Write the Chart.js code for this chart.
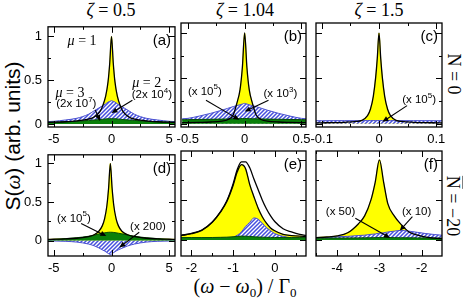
<!DOCTYPE html>
<html>
<head>
<meta charset="utf-8">
<script src="https://cdn.jsdelivr.net/npm/chart.js@4.4.1/dist/chart.umd.min.js"></script>
<style>
  html, body { margin: 0; padding: 0; background: #fff; }
  #wrap { position: relative; width: 463px; height: 299px; overflow: hidden; font-family: "Liberation Sans", Arial, sans-serif; }
  canvas { position: absolute; }
  .t { position: absolute; white-space: nowrap; color: #000; transform-origin: center center; }
  .serif { font-family: "Liberation Serif", "Times New Roman", serif; }
  .ov { text-decoration: overline; }
  sub { font-size: 13px; vertical-align: -4px; line-height: 0; }
</style>
</head>
<body>
<div id="wrap">
  <div class="t serif" style="left:111px;top:10px;font-size:18px;transform:translate(-50%,-50%)"><i>ζ</i> = 0.5</div>
  <div class="t serif" style="left:245px;top:10px;font-size:18px;transform:translate(-50%,-50%)"><i>ζ</i> = 1.04</div>
  <div class="t serif" style="left:379px;top:10px;font-size:18px;transform:translate(-50%,-50%)"><i>ζ</i> = 1.5</div>
  <div class="t" style="left:13px;top:136px;font-size:21px;transform:translate(-50%,-50%) rotate(-90deg)">S(<i class="serif">ω</i>) (arb. units)</div>
  <div class="t serif" style="left:453px;top:74px;font-size:18px;transform:translate(-50%,-50%) rotate(90deg)"><span class="ov">N</span> = 0</div>
  <div class="t serif" style="left:452px;top:206px;font-size:18px;transform:translate(-50%,-50%) rotate(90deg)"><span class="ov">N</span> = −20</div>
  <div class="t serif" style="left:245px;top:286px;font-size:20px;transform:translate(-50%,-50%)">(<i>ω</i> − <i>ω</i><sub>0</sub>) / Γ<sub>0</sub></div>
</div>
<script>
// ---- data ----
// (a) zeta = 0.5, N = 0
const xA = [-5.5, -5, -4, -3, -2, -1.5, -1, -0.75, -0.5, -0.3, -0.15, 0, 0.15, 0.3, 0.5, 0.75, 1, 1.5, 2, 3, 4, 5, 5.5];
const mu1A = [0.018, 0.02, 0.025, 0.035, 0.055, 0.08, 0.14, 0.21, 0.32, 0.48, 0.7, 1, 0.7, 0.48, 0.32, 0.21, 0.14, 0.08, 0.055, 0.035, 0.025, 0.02, 0.018];
const mu2A = [0.027, 0.03, 0.045, 0.065, 0.11, 0.15, 0.19, 0.21, 0.23, 0.25, 0.258, 0.265, 0.258, 0.25, 0.23, 0.21, 0.19, 0.15, 0.11, 0.065, 0.045, 0.03, 0.027];
const mu3A = [0.02, 0.02, 0.025, 0.03, 0.04, 0.045, 0.05, 0.054, 0.057, 0.059, 0.06, 0.06, 0.06, 0.059, 0.057, 0.054, 0.05, 0.045, 0.04, 0.03, 0.025, 0.02, 0.02];

// (b) zeta = 1.04, N = 0
const xB = [-0.55, -0.5, -0.4, -0.3, -0.2, -0.15, -0.1, -0.07, -0.04, -0.02, 0, 0.02, 0.04, 0.07, 0.1, 0.15, 0.2, 0.3, 0.4, 0.5, 0.55];
const mu1B = [0.012, 0.013, 0.016, 0.02, 0.03, 0.045, 0.1, 0.22, 0.38, 0.62, 1, 0.62, 0.38, 0.22, 0.1, 0.045, 0.03, 0.02, 0.016, 0.013, 0.012];
const mu2B = [0.055, 0.06, 0.085, 0.115, 0.15, 0.17, 0.19, 0.2, 0.21, 0.218, 0.225, 0.218, 0.21, 0.2, 0.19, 0.17, 0.15, 0.115, 0.085, 0.06, 0.055];
const mu3B = [0.045, 0.046, 0.048, 0.05, 0.052, 0.053, 0.055, 0.056, 0.057, 0.058, 0.058, 0.058, 0.057, 0.056, 0.055, 0.053, 0.052, 0.05, 0.048, 0.046, 0.045];

// (c) zeta = 1.5, N = 0
const xC = [-0.11, -0.1, -0.08, -0.06, -0.04, -0.03, -0.02, -0.015, -0.01, -0.006, -0.003, 0, 0.003, 0.006, 0.01, 0.015, 0.02, 0.03, 0.04, 0.06, 0.08, 0.1, 0.11];
const mu1C = [0.01, 0.011, 0.013, 0.017, 0.026, 0.038, 0.09, 0.16, 0.3, 0.5, 0.72, 1, 0.72, 0.5, 0.3, 0.16, 0.09, 0.038, 0.026, 0.017, 0.013, 0.011, 0.01];
const mu2C = [0.034, 0.034, 0.035, 0.035, 0.035, 0.035, 0.036, 0.036, 0.036, 0.036, 0.036, 0.036, 0.036, 0.036, 0.036, 0.036, 0.036, 0.035, 0.035, 0.035, 0.035, 0.034, 0.034];

// (d) zeta = 0.5, N = -20
const xD = [-5.5, -5, -4, -3, -2, -1.5, -1.1, -0.8, -0.6, -0.4, -0.25, -0.1, 0.05, 0.2, 0.4, 0.6, 0.9, 1.4, 2, 3, 4, 5, 5.5];
const mu1D = [0.015, 0.017, 0.022, 0.03, 0.05, 0.075, 0.12, 0.19, 0.28, 0.45, 0.68, 1, 0.68, 0.45, 0.28, 0.19, 0.12, 0.075, 0.05, 0.03, 0.022, 0.017, 0.015];
const mu2D = [-0.005, -0.006, -0.01, -0.02, -0.045, -0.068, -0.095, -0.12, -0.135, -0.155, -0.17, -0.182, -0.17, -0.155, -0.135, -0.12, -0.1, -0.07, -0.045, -0.02, -0.01, -0.006, -0.005];
const mu3D = [0.012, 0.015, 0.025, 0.037, 0.055, 0.07, 0.085, 0.095, 0.1, 0.105, 0.107, 0.108, 0.107, 0.105, 0.1, 0.095, 0.087, 0.072, 0.055, 0.037, 0.025, 0.015, 0.012];

// (e) zeta = 1.04, N = -20
const xE = [-2.25, -2, -1.75, -1.5, -1.3, -1.15, -1, -0.9, -0.8, -0.7, -0.6, -0.5, -0.4, -0.3, -0.2, -0.1, 0, 0.2, 0.4, 0.6, 0.75];
const totalE = [0.058, 0.082, 0.125, 0.225, 0.355, 0.49, 0.7, 0.88, 0.975, 0.975, 0.9, 0.76, 0.63, 0.5, 0.39, 0.3, 0.23, 0.14, 0.1, 0.07, 0.058];
const mu1E = [0.055, 0.078, 0.12, 0.22, 0.35, 0.48, 0.68, 0.85, 0.94, 0.89, 0.69, 0.54, 0.4, 0.29, 0.21, 0.15, 0.115, 0.07, 0.055, 0.047, 0.045];
const mu2E = [0.025, 0.025, 0.025, 0.025, 0.025, 0.025, 0.035, 0.06, 0.1, 0.17, 0.22, 0.275, 0.26, 0.21, 0.155, 0.115, 0.08, 0.045, 0.028, 0.025, 0.025];
const mu3E = [0.03, 0.03, 0.03, 0.031, 0.033, 0.035, 0.04, 0.045, 0.048, 0.047, 0.044, 0.04, 0.037, 0.035, 0.033, 0.032, 0.031, 0.03, 0.03, 0.03, 0.03];

// (f) zeta = 1.5, N = -20
const xF = [-4.5, -4.25, -4, -3.75, -3.5, -3.35, -3.2, -3.1, -3, -2.9, -2.8, -2.65, -2.5, -2.3, -2.1, -1.9, -1.7, -1.5];
const mu1F = [0.03, 0.037, 0.05, 0.09, 0.2, 0.3, 0.5, 0.72, 1, 0.72, 0.45, 0.3, 0.2, 0.1, 0.06, 0.035, 0.022, 0.016];
const mu2F = [0.025, 0.03, 0.04, 0.045, 0.055, 0.06, 0.07, 0.075, 0.085, 0.09, 0.1, 0.11, 0.12, 0.11, 0.095, 0.08, 0.068, 0.058];
const mu3F = [0.022, 0.023, 0.024, 0.025, 0.026, 0.027, 0.028, 0.029, 0.03, 0.03, 0.03, 0.029, 0.028, 0.027, 0.026, 0.025, 0.024, 0.023];

// tick labels
const yTicks = [0, 0.5, 1];
const xTicksA = [-5, 0, 5];
const xTicksB = [-0.5, 0, 0.5];
const xTicksC = [-0.1, 0, 0.1];
const xTicksE = [-2, -1, 0];
const xTicksF = [-4, -3, -2];

// ---- drawing ----
Chart.defaults.font.family = '"Liberation Sans", Arial, sans-serif';
Chart.defaults.font.size = 13;
Chart.defaults.color = '#000';

const YELLOW = '#ffff00';
const GREEN = '#0a800a';

const hatch = (function () {
  const c = document.createElement('canvas');
  c.width = 4; c.height = 4;
  const g = c.getContext('2d');
  g.fillStyle = '#fff';
  g.fillRect(0, 0, 4, 4);
  g.strokeStyle = '#4650de';
  g.lineWidth = 1.5;
  g.beginPath();
  g.moveTo(-1, 5); g.lineTo(5, -1);
  g.moveTo(-1, 1); g.lineTo(1, -1);
  g.moveTo(3, 5); g.lineTo(5, 3);
  g.stroke();
  return g.createPattern(c, 'repeat');
})();

function pts(xs, ys) {
  return xs.map((x, i) => ({ x: x, y: ys[i] }));
}

function filled(xs, ys, bg, border, order) {
  return {
    data: pts(xs, ys), backgroundColor: bg, borderColor: border, borderWidth: 1,
    fill: 'origin', pointRadius: 0, cubicInterpolationMode: 'monotone', order: order
  };
}

function blackLine(xs, ys, order) {
  return {
    data: pts(xs, ys), borderColor: '#000', borderWidth: 1.3, fill: false,
    pointRadius: 0, cubicInterpolationMode: 'monotone', order: order
  };
}

// inward ticks on all four sides plus the frame
const frame = {
  id: 'frame',
  afterDatasetsDraw(chart, args, opts) {
    const { ctx, chartArea: a, scales } = chart;
    const sx = scales.x, sy = scales.y;
    ctx.save();
    ctx.strokeStyle = '#000';
    ctx.lineWidth = 1;
    ctx.beginPath();
    const minors = (ticks, lo, hi) => {
      const out = [];
      const step = ticks[1] - ticks[0];
      for (let v = ticks[0] - step / 2; v <= hi + 1e-9; v += step) {
        if (v >= lo - 1e-9) out.push(v);
      }
      return out;
    };
    const xMaj = opts.xt, yMaj = opts.yt;
    const xMin = minors(xMaj, sx.min, sx.max), yMin = minors(yMaj, sy.min, sy.max);
    const vx = (v, len) => {
      const p = Math.round(sx.getPixelForValue(v)) + 0.5;
      ctx.moveTo(p, a.bottom); ctx.lineTo(p, a.bottom - len);
      ctx.moveTo(p, a.top); ctx.lineTo(p, a.top + len);
    };
    const vy = (v, len) => {
      const p = Math.round(sy.getPixelForValue(v)) + 0.5;
      ctx.moveTo(a.left, p); ctx.lineTo(a.left + len, p);
      ctx.moveTo(a.right, p); ctx.lineTo(a.right - len, p);
    };
    xMaj.forEach(v => vx(v, 6));
    xMin.forEach(v => vx(v, 3));
    yMaj.forEach(v => vy(v, 6));
    yMin.forEach(v => vy(v, 3));
    ctx.stroke();
    ctx.lineWidth = 1.3;
    ctx.strokeRect(a.left, a.top, a.width, a.height);
    ctx.restore();
  }
};

// rich text: ^d = superscript digit, *c = italic char
function drawRich(ctx, str, cx, cy, size, family) {
  const parts = [];
  let i = 0;
  while (i < str.length) {
    if (str[i] === '^') { parts.push({ t: str[i + 1], sup: true }); i += 2; }
    else if (str[i] === '*') { parts.push({ t: str[i + 1], it: true }); i += 2; }
    else {
      let j = i;
      while (j < str.length && str[j] !== '^' && str[j] !== '*') j++;
      parts.push({ t: str.slice(i, j) }); i = j;
    }
  }
  const fontOf = p => (p.it ? 'italic ' : '') + (p.sup ? Math.round(size * 0.7) : size) + 'px ' + family;
  let w = 0;
  parts.forEach(p => { ctx.font = fontOf(p); p.w = ctx.measureText(p.t).width; w += p.w; });
  let x = cx - w / 2;
  ctx.textBaseline = 'middle';
  ctx.textAlign = 'left';
  parts.forEach(p => {
    ctx.font = fontOf(p);
    ctx.fillText(p.t, x, p.sup ? cy - size * 0.38 : cy);
    x += p.w;
  });
}

const notes = {
  id: 'notes',
  afterDraw(chart, args, opts) {
    const { ctx, chartArea: a, scales } = chart;
    const sx = scales.x, sy = scales.y;
    ctx.save();
    ctx.fillStyle = '#000';
    ctx.strokeStyle = '#000';
    ctx.font = '15px "Liberation Sans", Arial, sans-serif';
    ctx.textAlign = 'right';
    ctx.textBaseline = 'middle';
    ctx.fillText(opts.letter, a.right - 4, a.top + 14);
    (opts.texts || []).forEach(n => {
      const serif = n.serif;
      drawRich(ctx, n.t, sx.getPixelForValue(n.x), sy.getPixelForValue(n.y),
        serif ? 14 : 11.5, serif ? '"Liberation Serif", "Times New Roman", serif' : '"Liberation Sans", Arial, sans-serif');
    });
    (opts.arrows || []).forEach(ar => {
      const x1 = sx.getPixelForValue(ar[0]), y1 = sy.getPixelForValue(ar[1]);
      const x2 = sx.getPixelForValue(ar[2]), y2 = sy.getPixelForValue(ar[3]);
      const ang = Math.atan2(y2 - y1, x2 - x1);
      const L = 6, W = 2.6;
      ctx.lineWidth = 1.1;
      ctx.beginPath();
      ctx.moveTo(x1, y1);
      ctx.lineTo(x2 - Math.cos(ang) * L * 0.8, y2 - Math.sin(ang) * L * 0.8);
      ctx.stroke();
      ctx.beginPath();
      ctx.moveTo(x2, y2);
      ctx.lineTo(x2 - Math.cos(ang) * L + Math.sin(ang) * W, y2 - Math.sin(ang) * L - Math.cos(ang) * W);
      ctx.lineTo(x2 - Math.cos(ang) * L - Math.sin(ang) * W, y2 - Math.sin(ang) * L + Math.cos(ang) * W);
      ctx.closePath();
      ctx.fill();
    });
    ctx.restore();
  }
};

const panels = [
  { letter: '(a)', box: [48, 23, 175, 127], xr: [-5.5, 5.5], yr: [-0.035, 1.11], xt: xTicksA, ylab: true,
    sets: [filled(xA, mu1A, YELLOW, YELLOW, 5), filled(xA, mu2A, hatch, '#4a50d0', 4), filled(xA, mu3A, GREEN, '#064a06', 3), blackLine(xA, mu1A, 1)],
    texts: [{ t: '*μ = 1', x: -2.55, y: 0.94, serif: true }, { t: '*μ = 2', x: 3.05, y: 0.465, serif: true },
            { t: '(2x 10^4)', x: 3.5, y: 0.33 }, { t: '*μ = 3', x: -3.6, y: 0.355, serif: true }, { t: '(2x 10^7)', x: -3.05, y: 0.23 }],
    arrows: [[1.81, 0.27, 0, 0.124], [-1.41, 0.16, -0.99, 0.033]] },
  { letter: '(b)', box: [181, 23, 306, 127], xr: [-0.56, 0.54], yr: [-0.035, 1.11], xt: xTicksB, ylab: false,
    sets: [filled(xB, mu1B, YELLOW, YELLOW, 5), filled(xB, mu2B, hatch, '#4a50d0', 4), filled(xB, mu3B, GREEN, '#064a06', 3), blackLine(xB, mu1B, 1)],
    texts: [{ t: '(x 10^5)', x: -0.35, y: 0.355 }, { t: '(x 10^3)', x: 0.314, y: 0.33 }],
    arrows: [[-0.34, 0.26, -0.047, 0.044], [0.21, 0.26, 0, 0.135]] },
  { letter: '(c)', box: [316, 23, 442, 127], xr: [-0.11, 0.11], yr: [-0.035, 1.11], xt: xTicksC, ylab: false,
    sets: [filled(xC, mu1C, YELLOW, YELLOW, 5), filled(xC, mu2C, hatch, '#4a50d0', 4), blackLine(xC, mu1C, 1)],
    texts: [{ t: '(x 10^5)', x: 0.07, y: 0.26 }],
    arrows: [[0.049, 0.2, 0.006, 0.022]] },
  { letter: '(d)', box: [48, 151, 175, 256], xr: [-5.5, 5.5], yr: [-0.2, 1.11], xt: xTicksA, ylab: true,
    sets: [filled(xD, mu1D, YELLOW, YELLOW, 5), filled(xD, mu2D, hatch, '#4a50d0', 4), filled(xD, mu3D, GREEN, '#064a06', 3), blackLine(xD, mu1D, 1)],
    texts: [{ t: '(x 10^5)', x: -3.26, y: 0.284 }, { t: '(x 200)', x: 3.16, y: 0.18 }],
    arrows: [[-2.63, 0.222, -0.45, 0.058], [2.4, 0.107, 0.68, -0.09]] },
  { letter: '(e)', box: [181, 151, 306, 256], xr: [-2.25, 0.75], yr: [-0.2, 1.11], xt: xTicksE, ylab: false,
    sets: [filled(xE, mu1E, YELLOW, YELLOW, 5), filled(xE, mu2E, hatch, '#4a50d0', 4), filled(xE, mu3E, GREEN, '#064a06', 3), blackLine(xE, mu1E, 1), blackLine(xE, totalE, 0)],
    texts: [], arrows: [] },
  { letter: '(f)', box: [316, 151, 442, 256], xr: [-4.5, -1.52], yr: [-0.2, 1.11], xt: xTicksF, ylab: false,
    sets: [filled(xF, mu1F, YELLOW, YELLOW, 5), filled(xF, mu2F, hatch, '#4a50d0', 4), filled(xF, mu3F, GREEN, '#064a06', 3), blackLine(xF, mu1F, 1)],
    texts: [{ t: '(x 50)', x: -3.92, y: 0.35 }, { t: '(x 10)', x: -2.12, y: 0.35 }],
    arrows: [[-3.57, 0.27, -2.75, 0.025], [-2.22, 0.29, -2.52, 0.115]] }
];

const wrap = document.getElementById('wrap');
panels.forEach(p => {
  const [l, t, r, b] = p.box;
  const yW = p.ylab ? 34 : 0;
  const padL = p.ylab ? 4 : 16, padR = 16, padT = 10, xH = 22;
  const cv = document.createElement('canvas');
  const W = (r - l) + padL + yW + padR, H = (b - t) + padT + xH;
  cv.width = W; cv.height = H;
  cv.style.left = (l - padL - yW) + 'px';
  cv.style.top = (t - padT) + 'px';
  cv.style.width = W + 'px'; cv.style.height = H + 'px';
  wrap.appendChild(cv);
  new Chart(cv, {
    type: 'line',
    data: { datasets: p.sets },
    options: {
      responsive: false, animation: false, devicePixelRatio: 1,
      layout: { padding: { left: padL, right: padR, top: padT, bottom: 0 } },
      plugins: {
        legend: { display: false }, tooltip: { enabled: false },
        frame: { xt: p.xt, yt: yTicks },
        notes: { letter: p.letter, texts: p.texts, arrows: p.arrows }
      },
      scales: {
        x: {
          type: 'linear', min: p.xr[0], max: p.xr[1],
          grid: { display: false, drawTicks: false }, border: { display: false },
          ticks: { padding: 5, maxRotation: 0, autoSkip: false, callback: v => String(v) },
          afterBuildTicks: s => { s.ticks = p.xt.map(v => ({ value: v })); },
          afterFit: s => { s.height = xH; }
        },
        y: {
          min: p.yr[0], max: p.yr[1],
          grid: { display: false, drawTicks: false }, border: { display: false },
          ticks: { display: p.ylab, padding: 6, callback: v => String(v) },
          afterBuildTicks: s => { s.ticks = yTicks.map(v => ({ value: v })); },
          afterFit: s => { s.width = yW; }
        }
      }
    },
    plugins: [frame, notes]
  });
});
</script>
</body>
</html>
